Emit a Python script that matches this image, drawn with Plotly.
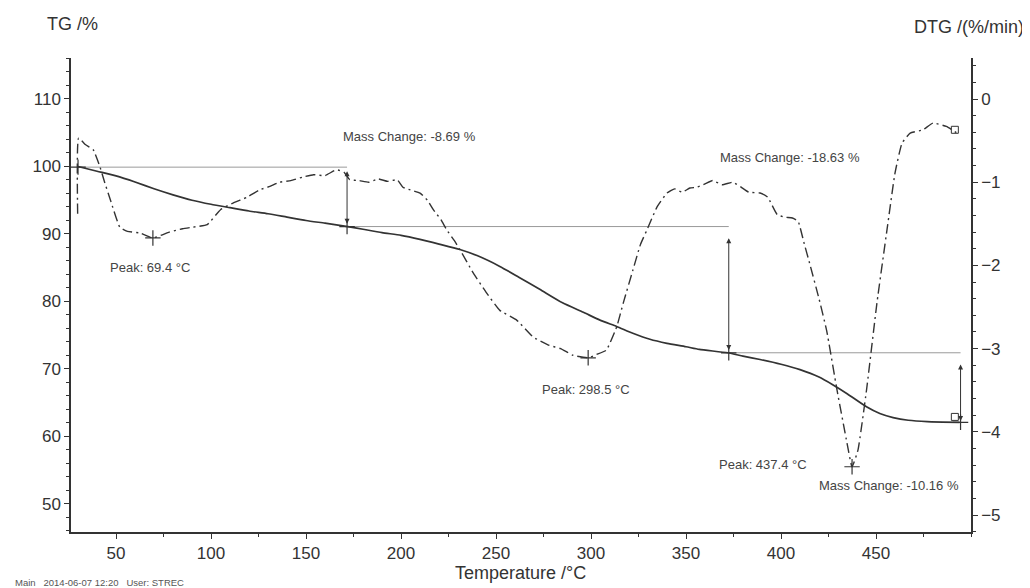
import plotly.graph_objects as go

# ---------------- data ----------------
tg_temp = [30, 40, 50, 60, 70, 80, 90, 100, 110, 120, 130, 140, 150, 160, 172, 180, 190,
           200, 210, 220, 231, 240, 252, 262, 273, 285, 296, 305, 313.5, 322, 331, 340,
           350, 357, 372, 380, 389, 400, 410, 420, 427, 435, 445, 452, 459, 467, 477, 494]
tg_value = [100.0, 99.3, 98.6, 97.7, 96.7, 95.8, 95.0, 94.4, 93.9, 93.4, 93.0, 92.5, 92.0,
            91.6, 91.1, 90.7, 90.2, 89.8, 89.2, 88.5, 87.7, 86.8, 85.2, 83.6, 81.8, 79.8,
            78.4, 77.2, 76.3, 75.3, 74.4, 73.8, 73.3, 72.9, 72.4, 71.9, 71.4, 70.7, 69.9,
            68.8, 67.7, 66.3, 64.4, 63.4, 62.8, 62.4, 62.2, 62.1]

dtg_temp = [29.8, 30.3, 34, 38, 41.6, 44, 47, 52, 56, 62.6, 69.4, 78, 85, 90.5, 98, 105,
            111.6, 119, 125.8, 131, 136, 142, 148, 154, 160, 166, 170, 173, 178, 183, 188,
            193, 198, 201, 206, 210, 214, 217, 221, 224, 228, 231, 238, 245, 252, 261,
            269.5, 278, 284, 290.5, 298.5, 303, 308, 313.5, 317, 322, 326, 329.5, 334.7,
            340, 344, 348, 352, 355.8, 360, 364, 369, 374.7, 379, 383, 389, 393, 398, 402,
            406, 409, 412, 415, 420, 424, 429.5, 434.7, 437.4, 440.5, 445, 450.5, 455.8,
            460, 463.7, 468, 474.7, 480, 487, 494]
dtg_value = [-1.38, -0.47, -0.55, -0.61, -0.82, -1.00, -1.21, -1.54, -1.59, -1.61, -1.67,
             -1.60, -1.56, -1.54, -1.51, -1.33, -1.25, -1.18, -1.09, -1.05, -1.00, -0.98,
             -0.94, -0.91, -0.92, -0.85, -0.88, -0.97, -0.98, -1.00, -0.96, -0.99, -0.97,
             -1.06, -1.10, -1.13, -1.22, -1.33, -1.45, -1.57, -1.70, -1.81, -2.09, -2.33,
             -2.54, -2.66, -2.86, -2.96, -3.00, -3.08, -3.11, -3.07, -3.02, -2.74, -2.45,
             -2.06, -1.75, -1.57, -1.30, -1.13, -1.08, -1.12, -1.07, -1.06, -1.02, -0.98,
             -1.03, -1.00, -1.06, -1.12, -1.13, -1.18, -1.39, -1.42, -1.43, -1.47, -1.72,
             -1.97, -2.40, -2.78, -3.50, -4.13, -4.42, -4.22, -3.50, -2.45, -1.57, -0.89,
             -0.53, -0.41, -0.37, -0.29, -0.33, -0.43]

# evaluation steps (mass change)
step_temp = [30, 171.6, 372.5, 494.5]
step_tg = [99.9, 91.1, 72.4, 62.1]
mass_changes = ["-8.69", "-18.63", "-10.16"]

# DTG peaks
peak_temp = [69.4, 298.5, 437.4]
peak_dtg = [-1.67, -3.11, -4.42]

x_ticks = [50, 100, 150, 200, 250, 300, 350, 400, 450]
tg_ticks = [50, 60, 70, 80, 90, 100, 110]
dtg_ticks = [0, -1, -2, -3, -4, -5]

# ---------------- styling ----------------
INK = "#333333"
GUIDE = "#9a9a9a"
FONT = "Liberation Sans, Arial, sans-serif"

fig = go.Figure()

# guide lines (horizontal levels between evaluation points)
for i in range(len(step_temp) - 1):
    fig.add_trace(go.Scatter(
        x=[step_temp[i], step_temp[i + 1]], y=[step_tg[i], step_tg[i]],
        mode="lines", line=dict(color=GUIDE, width=1), hoverinfo="skip",
        showlegend=False, yaxis="y"))

# TG curve
fig.add_trace(go.Scatter(x=tg_temp, y=tg_value, mode="lines",
                         line=dict(color=INK, width=1.7, shape="spline", smoothing=0.6),
                         name="TG", showlegend=False, yaxis="y"))

# DTG curve
fig.add_trace(go.Scatter(x=dtg_temp, y=dtg_value, mode="lines",
                         line=dict(color=INK, width=1.4, dash="10px,4px,2px,4px",
                                   shape="spline", smoothing=0.4),
                         name="DTG", showlegend=False, yaxis="y2"))

# + markers on TG evaluation points
fig.add_trace(go.Scatter(x=step_temp, y=step_tg, mode="markers",
                         marker=dict(symbol="cross-thin", size=11, color=INK,
                                     line=dict(color=INK, width=1.2)),
                         showlegend=False, hoverinfo="skip", yaxis="y"))
# + markers at DTG peaks
fig.add_trace(go.Scatter(x=peak_temp, y=peak_dtg, mode="markers",
                         marker=dict(symbol="cross-thin", size=11, color=INK,
                                     line=dict(color=INK, width=1.2)),
                         showlegend=False, hoverinfo="skip", yaxis="y2"))
# end-of-curve square markers
fig.add_trace(go.Scatter(x=[tg_temp[-1] - 2.5], y=[tg_value[-1] + 0.8], mode="markers",
                         marker=dict(symbol="square-open", size=7, color=INK,
                                     line=dict(color=INK, width=1)),
                         showlegend=False, hoverinfo="skip", yaxis="y"))
fig.add_trace(go.Scatter(x=[dtg_temp[-1] - 2.5], y=[dtg_value[-1] + 0.06], mode="markers",
                         marker=dict(symbol="square-open", size=7, color=INK,
                                     line=dict(color=INK, width=1)),
                         showlegend=False, hoverinfo="skip", yaxis="y2"))

annotations = []
# double-headed arrows for mass changes
arrow_spans = [(99.5, 91.5), (89.6, 72.8), (70.9, 62.3)]
for i, (top, bot) in enumerate(arrow_spans):
    annotations.append(dict(
        x=step_temp[i + 1], y=bot, ax=step_temp[i + 1], ay=top,
        xref="x", yref="y", axref="x", ayref="y", text="", showarrow=True,
        arrowhead=2, startarrowhead=2, arrowside="end+start", arrowsize=1,
        arrowwidth=1, arrowcolor=INK))

lab_font = dict(family=FONT, size=13, color="#444444")
labels = [
    (204.7, 104.5, f"Mass Change: {mass_changes[0]} %"),
    (404.7, 101.3, f"Mass Change: {mass_changes[1]} %"),
    (456.6, 52.7, f"Mass Change: {mass_changes[2]} %"),
    (67.9, 85.1, f"Peak: {peak_temp[0]} °C"),
    (297.4, 67.0, f"Peak: {peak_temp[1]} °C"),
    (390.3, 55.9, f"Peak: {peak_temp[2]} °C"),
]
for x, y, t in labels:
    annotations.append(dict(x=x, y=y, xref="x", yref="y", text=t, showarrow=False,
                            font=lab_font, xanchor="center", yanchor="middle"))

title_font = dict(family=FONT, size=18, color=INK)
annotations += [
    dict(x=0.0017, y=1.0717, xref="paper", yref="paper", text="TG /%", showarrow=False,
         font=title_font, xanchor="center", yanchor="middle"),
    dict(x=0.9983, y=1.0654, xref="paper", yref="paper", text="DTG /(%/min)",
         showarrow=False, font=title_font, xanchor="center", yanchor="middle"),
    dict(x=0.4989, y=-0.0865, xref="paper", yref="paper", text="Temperature /°C",
         showarrow=False, font=title_font, xanchor="center", yanchor="middle"),
    dict(x=-0.0644, y=-0.1065, xref="paper", yref="paper",
         text="Main   2014-06-07 12:20   User: STREC", showarrow=False,
         font=dict(family=FONT, size=9.5, color="#555555"), xanchor="left",
         yanchor="middle"),
]

tick_font = dict(family=FONT, size=17, color=INK)
axis_common = dict(showgrid=False, zeroline=False, showline=True, linecolor=INK,
                   linewidth=1.5, ticks="outside", ticklen=5, tickwidth=1.2,
                   tickcolor=INK, tickfont=tick_font)

# the page body adds an 8px offset, so margins are shifted to compensate
fig.update_layout(
    width=1030, height=588,
    margin=dict(l=63, r=67, t=50, b=64),
    paper_bgcolor="white", plot_bgcolor="white",
    showlegend=False,
    xaxis=dict(range=[26.3, 500.0], tickvals=x_ticks, **axis_common,
               minor=dict(dtick=25, ticks="outside", ticklen=3, tickcolor=INK)),
    yaxis=dict(range=[45.85, 116.07], tickvals=tg_ticks, **axis_common,
               minor=dict(dtick=2, ticks="outside", ticklen=3, tickcolor=INK)),
    yaxis2=dict(range=[-5.204, 0.493], tickvals=dtg_ticks, overlaying="y", side="right",
                anchor="x", **axis_common,
                minor=dict(dtick=0.2, ticks="outside", ticklen=3, tickcolor=INK)),
    annotations=annotations,
)

fig.write_html("out.html")
